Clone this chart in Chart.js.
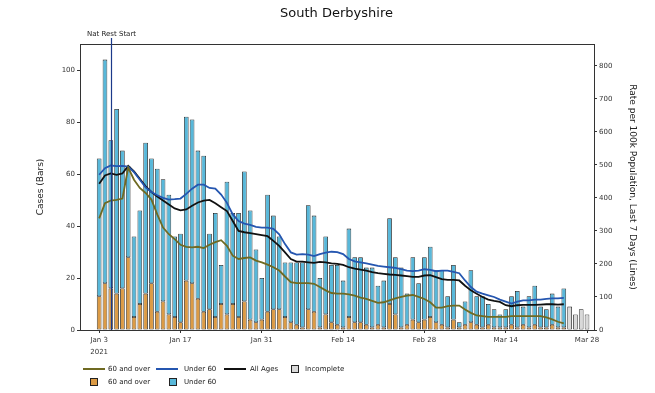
<!DOCTYPE html>
<html>
<head>
<meta charset="utf-8">
<title>South Derbyshire</title>
<script src="https://cdn.jsdelivr.net/npm/chart.js@4.4.1/dist/chart.umd.min.js"></script>
<style>
  html, body { margin: 0; padding: 0; background: #fff; }
  #wrap { position: relative; width: 655px; height: 393px; font-family: "DejaVu Sans", sans-serif; }
  #chart { position: absolute; left: 0; top: 0; }
  .lg { position: absolute; font-size: 7px; color: #222; line-height: 8px; white-space: nowrap; }
  .lg-line { position: absolute; height: 2px; width: 22px; }
  .lg-box { position: absolute; width: 6px; height: 6px; border: 1px solid #222; }
</style>
</head>
<body>
<div id="wrap">
  <canvas id="chart" width="655" height="393"></canvas>
</div>
<script>
// DATA (day 0 = Jan 3 2021)

// Daily cases, complete days Jan 3 - Mar 24
const cases60Plus = [13, 18, 16, 14, 16, 28, 5, 10, 14, 18, 7, 11, 6, 5, 3, 19, 18, 12, 7, 8,
    5, 10, 6, 10, 5, 11, 4, 3, 4, 7, 8, 8, 5, 3, 2, 1, 8, 7, 1, 6,
    3, 2, 1, 5, 3, 3, 2, 1, 2, 1, 10, 6, 1, 2, 4, 3, 4, 5, 3, 2,
    1, 4, 1, 2, 3, 2, 1, 2, 1, 1, 1, 2, 1, 2, 1, 2, 1, 1, 2, 1, 1];
const casesUnder60 = [53, 86, 57, 71, 53, 35, 31, 36, 58, 48, 55, 47, 46, 31, 34, 63, 63, 57, 60, 29,
    40, 15, 51, 35, 40, 50, 42, 28, 16, 45, 36, 28, 21, 23, 24, 25, 40, 37, 19, 30,
    22, 23, 18, 34, 25, 25, 22, 23, 15, 18, 33, 22, 23, 12, 24, 15, 24, 27, 20, 21,
    12, 21, 2, 9, 20, 11, 12, 8, 7, 5, 7, 11, 14, 7, 12, 15, 8, 7, 12, 8, 15];
// Incomplete days Mar 25 - Mar 28
const casesIncomplete = [9, 6, 8, 6];

// Rate per 100k, last 7 days
const rate60Plus = [338, 384, 392, 394, 398, 492, 455, 430, 415, 395, 350, 310, 290, 275, 258, 252, 250, 252, 248, 258,
    266, 272, 255, 225, 215, 218, 220, 210, 205, 198, 190, 180, 162, 145, 142, 142, 142, 140, 130, 120,
    112, 110, 110, 108, 104, 98, 94, 88, 82, 84, 90, 96, 100, 104, 106, 100, 94, 84, 68, 68,
    72, 74, 74, 62, 52, 44, 42, 40, 40, 40, 40, 42, 42, 42, 42, 42, 42, 38, 32, 25, 20];
const rateUnder60 = [470, 490, 498, 496, 497, 495, 478, 455, 432, 418, 408, 400, 395, 396, 398, 412, 428, 440, 440, 430,
    428, 410, 385, 350, 330, 322, 318, 312, 310, 310, 306, 290, 260, 235, 228, 230, 228, 224, 230, 234,
    237, 236, 230, 215, 208, 205, 202, 198, 194, 192, 190, 188, 184, 180, 178, 180, 184, 182, 178, 180,
    180, 176, 172, 150, 130, 116, 110, 105, 100, 92, 86, 80, 86, 90, 90, 92, 92, 94, 96, 96, 97];
const rateAllAges = [443, 468, 474, 470, 474, 497, 480, 458, 435, 418, 404, 392, 380, 368, 362, 365, 376, 386, 392, 394,
    384, 372, 360, 330, 300, 296, 293, 290, 287, 284, 270, 255, 235, 215, 207, 207, 205, 203, 206, 205,
    202, 200, 197, 190, 186, 183, 180, 175, 172, 170, 168, 167, 165, 163, 161, 161, 165, 166, 160, 154,
    152, 152, 150, 134, 120, 110, 100, 92, 88, 85, 75, 72, 75, 76, 76, 76, 77, 78, 78, 77, 78];

const tickDays = [0, 14, 28, 42, 56, 70, 84];
const tickLabels = [['Jan 3', '2021'], 'Jan 17', 'Jan 31', 'Feb 14', 'Feb 28', 'Mar 14', 'Mar 28'];
const casesTicks = [0, 20, 40, 60, 80, 100];
const rateTicks = [0, 100, 200, 300, 400, 500, 600, 700, 800];
const natRestDay = 2; // Jan 5

// COLOURS
const col60Line = '#6f6a22';
const colU60Line = '#2556b0';
const colAllLine = '#111111';
const col60Bar = '#dc9b45';
const colU60Bar = '#58b8da';
const colIncomplete = '#d9d9d9';
const edge = '#1a1a1a';
const fontFamily = '"DejaVu Sans", sans-serif';

function toXY(values, offset) {
    return values.map((v, i) => ({ x: i + (offset || 0), y: v }));
}

// Draws the top frame line and the lockdown marker
const framePlugin = {
    id: 'frame',
    afterDatasetsDraw(chart) {
        const { ctx, chartArea, scales } = chart;
        ctx.save();
        ctx.strokeStyle = '#333';
        ctx.lineWidth = 1;
        ctx.beginPath();
        ctx.moveTo(chartArea.left, chartArea.top + 0.5);
        ctx.lineTo(chartArea.right, chartArea.top + 0.5);
        ctx.stroke();

        const x = Math.round(scales.x.getPixelForValue(natRestDay)) + 0.5;
        ctx.strokeStyle = '#1c3a8a';
        ctx.lineWidth = 1.2;
        ctx.beginPath();
        ctx.moveTo(x, 38);
        ctx.lineTo(x, chartArea.bottom);
        ctx.stroke();

        ctx.fillStyle = '#222';
        ctx.font = '7px ' + fontFamily;
        ctx.textAlign = 'center';
        ctx.textBaseline = 'alphabetic';
        ctx.fillText('Nat Rest Start', x, 36);
        ctx.restore();
    }
};

const tickFont = { family: fontFamily, size: 7 };

new Chart(document.getElementById('chart'), {
    type: 'bar',
    data: {
        datasets: [{
            type: 'line', label: '60 and over', yAxisID: 'y2', order: 0,
            data: toXY(rate60Plus), borderColor: col60Line, borderWidth: 1.8,
            pointRadius: 0, tension: 0, fill: false
        }, {
            type: 'line', label: 'Under 60', yAxisID: 'y2', order: 0,
            data: toXY(rateUnder60), borderColor: colU60Line, borderWidth: 1.8,
            pointRadius: 0, tension: 0, fill: false
        }, {
            type: 'line', label: 'All Ages', yAxisID: 'y2', order: 0,
            data: toXY(rateAllAges), borderColor: colAllLine, borderWidth: 1.8,
            pointRadius: 0, tension: 0, fill: false
        }, {
            label: '60 and over', yAxisID: 'y', order: 1, stack: 'cases',
            data: toXY(cases60Plus), backgroundColor: col60Bar,
            borderColor: edge, borderWidth: 0.8, borderSkipped: false
        }, {
            label: 'Under 60', yAxisID: 'y', order: 1, stack: 'cases',
            data: toXY(casesUnder60), backgroundColor: colU60Bar,
            borderColor: edge, borderWidth: 0.8, borderSkipped: false
        }, {
            label: 'Incomplete', yAxisID: 'y', order: 1, stack: 'cases',
            data: toXY(casesIncomplete, cases60Plus.length), backgroundColor: colIncomplete,
            borderColor: edge, borderWidth: 0.8, borderSkipped: false
        }]
    },
    options: {
        responsive: false,
        animation: false,
        devicePixelRatio: 1,
        layout: { padding: { left: 31, right: 13, top: 0, bottom: 35 } },
        datasets: { bar: { barPercentage: 0.8, categoryPercentage: 1 } },
        plugins: {
            legend: { display: false },
            tooltip: { enabled: false },
            title: {
                display: true, text: 'South Derbyshire', color: '#111',
                font: { family: fontFamily, size: 13, weight: 'normal' },
                padding: { top: 6, bottom: 22.4 }
            }
        },
        scales: {
            x: {
                type: 'linear', min: -3.3, max: 85.2, stacked: true, offset: false,
                afterBuildTicks: s => { s.ticks = tickDays.map(v => ({ value: v })); },
                afterFit: s => { s.height = 28; },
                ticks: {
                    callback: (v, i) => tickLabels[i],
                    font: { family: fontFamily, size: 7, lineHeight: 1.6 }, color: '#333',
                    padding: 2, maxRotation: 0, autoSkip: false
                },
                grid: { drawOnChartArea: false, offset: false, tickLength: 3, color: '#333' },
                border: { color: '#333' }
            },
            y: {
                type: 'linear', position: 'left', min: 0, max: 110, stacked: true,
                afterBuildTicks: s => { s.ticks = casesTicks.map(v => ({ value: v })); },
                afterFit: s => { s.width = 49; },
                ticks: { font: tickFont, color: '#333', padding: 2 },
                grid: { drawOnChartArea: false, tickLength: 3, color: '#333' },
                border: { color: '#333' },
                title: { display: true, text: 'Cases (Bars)', color: '#222', font: { family: fontFamily, size: 9 } }
            },
            y2: {
                type: 'linear', position: 'right', min: 0, max: 866,
                afterBuildTicks: s => { s.ticks = rateTicks.map(v => ({ value: v })); },
                afterFit: s => { s.width = 48; },
                ticks: { font: tickFont, color: '#333', padding: 2 },
                grid: { drawOnChartArea: false, tickLength: 3, color: '#333' },
                border: { color: '#333' },
                title: {
                    display: true, text: 'Rate per 100k Population, Last 7 Days (Lines)',
                    color: '#222', font: { family: fontFamily, size: 9 }
                }
            }
        }
    },
    plugins: [framePlugin]
});

// Legend (two rows, as in the original)
const legendItems = [
    { kind: 'line', color: col60Line, x: 83, y: 369, textX: 108, text: '60 and over' },
    { kind: 'line', color: colU60Line, x: 156, y: 369, textX: 184, text: 'Under 60' },
    { kind: 'line', color: colAllLine, x: 224, y: 369, textX: 250, text: 'All Ages' },
    { kind: 'box', color: colIncomplete, x: 291, y: 369, textX: 305, text: 'Incomplete' },
    { kind: 'box', color: col60Bar, x: 90, y: 382, textX: 108, text: '60 and over' },
    { kind: 'box', color: colU60Bar, x: 169, y: 382, textX: 184, text: 'Under 60' }
];
const wrap = document.getElementById('wrap');
legendItems.forEach(item => {
    const mark = document.createElement('div');
    if (item.kind === 'line') {
        mark.className = 'lg-line';
        mark.style.left = item.x + 'px';
        mark.style.top = (item.y - 1) + 'px';
        mark.style.background = item.color;
    } else {
        mark.className = 'lg-box';
        mark.style.left = item.x + 'px';
        mark.style.top = (item.y - 4) + 'px';
        mark.style.background = item.color;
    }
    wrap.appendChild(mark);
    const label = document.createElement('div');
    label.className = 'lg';
    label.style.left = item.textX + 'px';
    label.style.top = (item.y - 4) + 'px';
    label.textContent = item.text;
    wrap.appendChild(label);
});
</script>
</body>
</html>
